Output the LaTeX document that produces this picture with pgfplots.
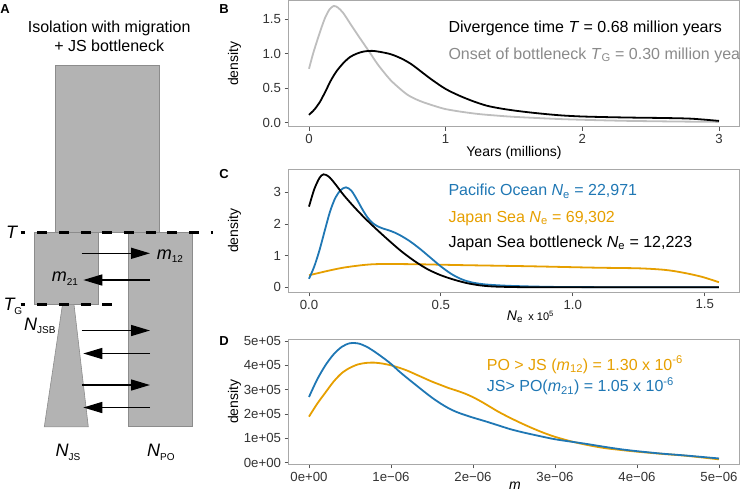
\documentclass[border=0pt]{standalone}
\usepackage{pgfplots}
\pgfplotsset{compat=1.18}
\usepackage{fontspec}
\setmainfont{Liberation Sans}
\usetikzlibrary{arrows.meta}
\definecolor{cblue}{HTML}{1F77B4}
\definecolor{corange}{HTML}{E69F00}
\definecolor{lgray}{HTML}{BEBEBE}
\definecolor{tgray}{HTML}{8A8A8A}
\definecolor{border}{HTML}{A8A8A8}
\definecolor{tickc}{HTML}{555555}
\definecolor{labc}{HTML}{333333}
\definecolor{boxfill}{HTML}{B3B3B3}
\definecolor{boxedge}{HTML}{8C8C8C}
\newcommand{\fs}[1]{\fontsize{#1}{#1}\selectfont}
\newcommand{\sub}[1]{\raisebox{-3.5pt}{\fs{10}#1}}
\pgfplotsset{panel/.style={
  scale only axis, width=451pt,
  axis line style={draw=border, line width=1pt},
  tick align=outside, major tick length=4pt, tick pos=left,
  tick style={draw=tickc, line width=0.8pt},
  ticklabel style={font=\fs{13.2}, text=labc},
  every axis plot/.append style={line width=1.8pt, smooth, no marks},
}}
\tikzset{arr/.style={black, line width=1.5pt, -{Triangle[length=19pt 0 0, width=11pt 0 0]}}}
\begin{document}
\begin{tikzpicture}
\path[use as bounding box, clip] (0pt,0pt) rectangle (740pt,-493pt);
% ---------- Panel B ----------
\begin{axis}[panel, at={(288.5pt,-126.7pt)}, anchor=south west, height=126.2pt,
  xmin=-0.15, xmax=3.15, ymin=-0.06, ymax=1.77,
  xtick={0,1,2,3}, xticklabels={0,1,2,3},
  ytick={0,0.5,1,1.5}, yticklabels={0.0,0.5,1.0,1.5}]
\addplot[lgray] coordinates {(0,0.78) (0.03,1.0) (0.06,1.19) (0.09,1.37) (0.12,1.53) (0.15,1.64) (0.18,1.69) (0.21,1.67) (0.25,1.59) (0.3,1.44) (0.35,1.29) (0.4,1.145) (0.45,1.0) (0.5,0.852) (0.55,0.725) (0.6,0.609) (0.66,0.5) (0.72,0.404) (0.78,0.34) (0.84,0.292) (0.92,0.24) (1.0,0.195) (1.12,0.155) (1.25,0.122) (1.4,0.097) (1.5,0.083) (1.7,0.063) (1.86,0.049) (2.1,0.035) (2.35,0.024) (2.7,0.015) (3.0,0.01)};
\addplot[black] coordinates {(0,0.112) (0.04,0.19) (0.08,0.30) (0.12,0.45) (0.16,0.61) (0.2,0.74) (0.25,0.86) (0.3,0.95) (0.35,1.0) (0.4,1.03) (0.46,1.04) (0.52,1.025) (0.6,0.99) (0.68,0.925) (0.75,0.845) (0.82,0.74) (0.9,0.62) (1.0,0.487) (1.1,0.39) (1.2,0.31) (1.3,0.245) (1.4,0.205) (1.5,0.175) (1.62,0.146) (1.75,0.12) (1.86,0.102) (2.0,0.088) (2.2,0.078) (2.4,0.071) (2.6,0.066) (2.8,0.056) (3.0,0.024)};
\end{axis}
% ---------- Panel C ----------
\begin{axis}[panel, at={(288.5pt,-292.3pt)}, anchor=south west, height=123pt,
  xmin=-0.0777, xmax=1.632, ymin=-0.158, ymax=3.73,
  xtick={0,0.5,1,1.5}, xticklabels={0.0,0.5,1.0,1.5},
  ytick={0,1,2,3}, yticklabels={0,1,2,3}]
\addplot[corange] coordinates {(0,0.38) (0.082,0.54) (0.145,0.64) (0.246,0.73) (0.397,0.73) (0.586,0.70) (0.838,0.665) (1.09,0.62) (1.25,0.60) (1.35,0.55) (1.42,0.46) (1.49,0.33) (1.554,0.16)};
\addplot[cblue] coordinates {(0,0.27) (0.02,0.66) (0.04,1.18) (0.06,1.8) (0.08,2.4) (0.1,2.83) (0.12,3.07) (0.14,3.16) (0.16,3.06) (0.18,2.8) (0.2,2.5) (0.22,2.23) (0.24,2.04) (0.26,1.93) (0.28,1.86) (0.31,1.78) (0.34,1.67) (0.38,1.47) (0.42,1.22) (0.46,0.94) (0.5,0.66) (0.54,0.42) (0.58,0.25) (0.62,0.15) (0.67,0.09) (0.75,0.05) (0.85,0.025) (0.96,0.01) (1.2,0.002) (1.554,0)};
\addplot[black] coordinates {(0,2.55) (0.02,3.1) (0.04,3.46) (0.055,3.57) (0.075,3.5) (0.1,3.26) (0.13,2.93) (0.17,2.55) (0.21,2.2) (0.25,1.88) (0.3,1.5) (0.35,1.14) (0.4,0.83) (0.45,0.57) (0.5,0.38) (0.55,0.24) (0.6,0.13) (0.65,0.06) (0.7,0.025) (0.78,0.008) (0.9,0) (1.554,0)};
\end{axis}
% ---------- Panel D ----------
\begin{axis}[panel, at={(288.5pt,-464.3pt)}, anchor=south west, height=125pt,
  xmin=-0.25, xmax=5.25, ymin=-0.07, ymax=5.07,
  xtick={0,1,2,3,4,5}, xticklabels={0e+00,1e−06,2e−06,3e−06,4e−06,5e−06},
  ytick={0,1,2,3,4,5}, yticklabels={0e+00,1e+05,2e+05,3e+05,4e+05,5e+05}]
\addplot[corange] coordinates {(0,1.89) (0.1,2.42) (0.2,2.88) (0.3,3.33) (0.4,3.68) (0.5,3.9) (0.6,4.04) (0.7,4.1) (0.8,4.11) (0.9,4.07) (1.0,4.0) (1.1,3.9) (1.2,3.78) (1.3,3.63) (1.4,3.48) (1.5,3.33) (1.6,3.2) (1.7,3.07) (1.8,2.96) (1.9,2.84) (2.0,2.69) (2.1,2.51) (2.2,2.31) (2.3,2.11) (2.4,1.93) (2.55,1.68) (2.7,1.45) (2.85,1.24) (3.0,1.06) (3.2,0.87) (3.4,0.72) (3.6,0.6) (3.8,0.52) (4.0,0.45) (4.3,0.36) (4.6,0.28) (5.0,0.135)};
\addplot[cblue] coordinates {(0,2.70) (0.1,3.42) (0.2,4.0) (0.3,4.45) (0.4,4.76) (0.5,4.91) (0.6,4.9) (0.7,4.77) (0.8,4.56) (0.9,4.32) (1.0,4.06) (1.1,3.75) (1.2,3.47) (1.3,3.2) (1.4,2.93) (1.5,2.67) (1.6,2.44) (1.7,2.24) (1.8,2.08) (1.9,1.96) (2.0,1.85) (2.15,1.7) (2.3,1.54) (2.45,1.38) (2.6,1.25) (2.8,1.1) (3.0,0.96) (3.2,0.86) (3.4,0.76) (3.6,0.65) (3.8,0.55) (4.0,0.47) (4.3,0.37) (4.6,0.29) (5.0,0.17)};
\end{axis}
% ---------- Panel A and all text ----------
\begin{axis}[at={(0pt,0pt)}, anchor=north west, scale only axis, width=740pt, height=493pt,
  xmin=0, xmax=740, ymin=0, ymax=493, y dir=reverse, hide axis, clip=false]
\addplot[fill=boxfill, draw=boxedge, line width=0.6pt] coordinates {(55,65) (159,65) (159,232.7) (55,232.7) (55,65)};
\addplot[fill=boxfill, draw=boxedge, line width=0.6pt] coordinates {(34.3,232.7) (98.3,232.7) (98.3,304.3) (34.3,304.3) (34.3,232.7)};
\addplot[fill=boxfill, draw=boxedge, line width=0.6pt] coordinates {(128.3,232.7) (192.7,232.7) (192.7,426.7) (128.3,426.7) (128.3,232.7)};
\addplot[fill=boxfill, draw=boxedge, line width=0.6pt] coordinates {(62.5,304.3) (74,304.3) (88.3,426.7) (44.3,426.7) (62.5,304.3)};
\addplot[black, line width=3pt, dash pattern=on 10pt off 11.7pt, dash phase=5.3pt] coordinates {(20.7,232.7) (213,232.7)};
\addplot[black, line width=3pt, dash pattern=on 10pt off 11.7pt, dash phase=5.3pt] coordinates {(20.7,304.3) (116.7,304.3)};
\addplot[arr] coordinates {(81.7,253.3) (150,253.3)};
\addplot[arr] coordinates {(150,280) (83.3,280)};
\addplot[arr] coordinates {(81.7,330.5) (150,330.5)};
\addplot[arr] coordinates {(150,353.5) (83.3,353.5)};
\addplot[arr] coordinates {(81.7,385) (150,385)};
\addplot[arr] coordinates {(150,407.5) (83.3,407.5)};
% panel A text
\node[font=\fs{16}, anchor=base] at (axis cs:109.2,32.3) {Isolation with migration};
\node[font=\fs{16}, anchor=base] at (axis cs:109.2,51.7) {+ JS bottleneck};
\node[font=\fs{18}\itshape, anchor=base west, inner sep=0pt] at (axis cs:6,238.5) {T};
\node[font=\fs{18}, anchor=base west, inner sep=0pt] at (axis cs:3.5,310.7) {\textit{T}\kern-1.5pt\sub{G}};
\node[font=\fs{18}, anchor=base west, inner sep=0pt] at (axis cs:156.7,259) {\textit{m}\sub{12}};
\node[font=\fs{18}, anchor=base west, inner sep=0pt] at (axis cs:51.7,281.7) {\textit{m}\sub{21}};
\node[font=\fs{18}, anchor=base west, inner sep=0pt] at (axis cs:24,330) {\textit{N}\sub{JSB}};
\node[font=\fs{18}, anchor=base west, inner sep=0pt] at (axis cs:55.5,456.7) {\textit{N}\sub{JS}};
\node[font=\fs{18}, anchor=base west, inner sep=0pt] at (axis cs:147,456.7) {\textit{N}\sub{PO}};
% panel letters
\node[font=\fs{13}\bfseries] at (axis cs:5,8.7) {A};
\node[font=\fs{13}\bfseries] at (axis cs:224,8.7) {B};
\node[font=\fs{13}\bfseries] at (axis cs:224,174) {C};
\node[font=\fs{13}\bfseries] at (axis cs:224,341) {D};
% axis labels
\node[font=\fs{14}, rotate=90] at (axis cs:234.5,63.6) {density};
\node[font=\fs{14}, rotate=90] at (axis cs:234.5,230.8) {density};
\node[font=\fs{14}, rotate=90] at (axis cs:234.5,401.8) {density};
\node[font=\fs{14}, anchor=base] at (axis cs:514,156) {Years (millions)};
\node[font=\fs{14}, anchor=base west, inner sep=0pt] at (axis cs:506.7,320) {\textit{N}\textsubscript{e}\,{\fs{11} x 10\textsuperscript{5}}};
\node[font=\fs{14}\itshape, anchor=base] at (axis cs:515,489.5) {m};
% annotations
\node[font=\fs{16}, anchor=base west, inner sep=0pt] at (axis cs:448.3,32.3) {Divergence time \textit{T} = 0.68 million years};
\node[font=\fs{16}, text=tgray, anchor=base west, inner sep=0pt] at (axis cs:448.3,59) {Onset of bottleneck \textit{T}\textsubscript{G} = 0.30 million years};
\node[font=\fs{16}, text=cblue, anchor=base west, inner sep=0pt] at (axis cs:448.3,195.7) {Pacific Ocean \textit{N}\textsubscript{e} = 22,971};
\node[font=\fs{16}, text=corange, anchor=base west, inner sep=0pt] at (axis cs:448.3,222.3) {Japan Sea \textit{N}\textsubscript{e} = 69,302};
\node[font=\fs{16}, anchor=base west, inner sep=0pt] at (axis cs:448.3,247.3) {Japan Sea bottleneck \textit{N}\textsubscript{e} = 12,223};
\node[font=\fs{16}, text=corange, anchor=base west, inner sep=0pt] at (axis cs:486.7,370) {PO > JS (\textit{m}\textsubscript{12}) = 1.30 x 10\textsuperscript{-6}};
\node[font=\fs{16}, text=cblue, anchor=base west, inner sep=0pt] at (axis cs:486.7,391.7) {JS> PO(\textit{m}\textsubscript{21}) = 1.05 x 10\textsuperscript{-6}};
\end{axis}
\end{tikzpicture}
\end{document}
